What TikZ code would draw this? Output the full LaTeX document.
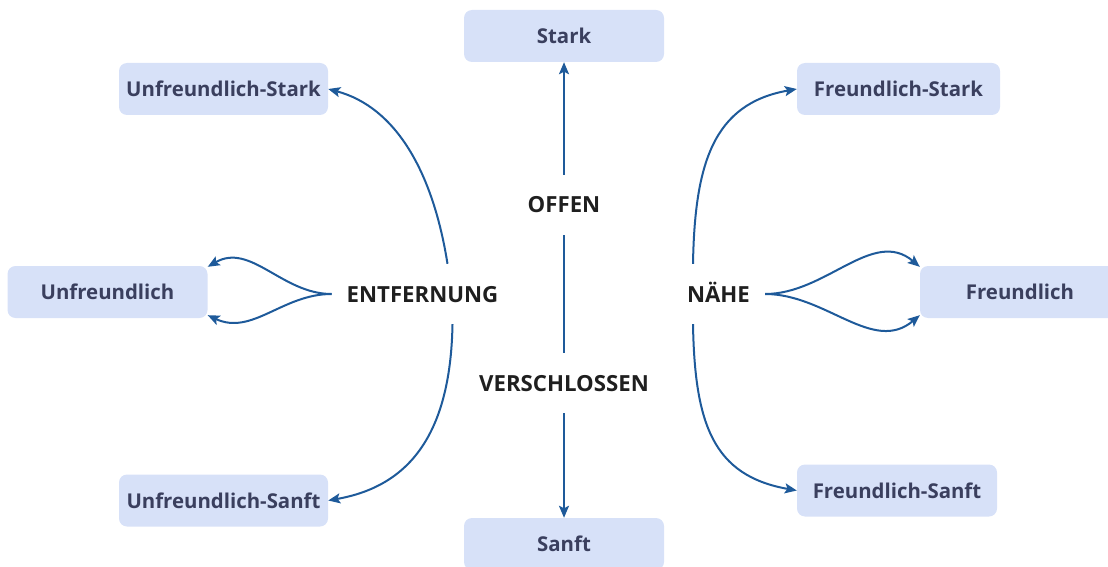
\documentclass[tikz,border=0pt]{standalone}
\usepackage{fontspec}
\setmainfont{Open Sans}
\usetikzlibrary{arrows.meta}
\definecolor{boxfill}{HTML}{D7E1F8}
\definecolor{boxtext}{HTML}{3A3F5E}
\definecolor{arrowblue}{HTML}{1E5A9A}
\begin{document}
\begin{tikzpicture}[x=1pt, y=1pt,
    every node/.style={font=\fontsize{20.4}{24}\selectfont\bfseries},
    box/.style={fill=boxfill, text=boxtext, rounded corners=8pt,
      minimum width=200pt, minimum height=52pt, inner sep=0pt},
    lbl/.style={text=black!88, font=\fontsize{22.2}{26}\selectfont\bfseries,
      inner xsep=15pt, inner ysep=22pt, text height=16pt, text depth=0pt},
    conn/.style={draw=arrowblue, line width=2pt,
      -{Stealth[length=12pt, width=10pt, inset=2.5pt]}}]
  \useasboundingbox (0,0) rectangle (1108,566);
  % kastchen
  \node[box] (stark) at (564,530) {Stark};
  \node[box] (sanft) at (564,22) {Sanft};
  \node[box, minimum width=209pt] (ustark) at (223.5,477) {Unfreundlich-Stark};
  \node[box] (ufr) at (107.5,274) {Unfreundlich};
  \node[box, minimum width=209pt] (usanft) at (223.5,65.5) {Unfreundlich-Sanft};
  \node[box, minimum width=203pt] (fstark) at (898.5,477) {Freundlich-Stark};
  \node[box] (fr) at (1020,274) {Freundlich};
  \node[box] (fsanft) at (897,75.5) {Freundlich-Sanft};
  % mitte
  \node[lbl] (offen) at (564,361) {OFFEN};
  \node[lbl] (verschl) at (564,183) {VERSCHLOSSEN};
  \node[lbl] (entf) at (422.5,272) {ENTFERNUNG};
  \node[lbl] (naehe) at (718.5,272) {NÄHE};
  % senkrecht
  \draw[conn, -] (verschl) -- (offen);
  \draw[conn] (offen) -- (stark);
  \draw[conn] (verschl) -- (sanft);
  % links
  \draw[conn] ([xshift=25pt]entf.north) to[out=99, in=-15,
    out distance=93pt, in distance=70pt] (ustark.east);
  \draw[conn] ([xshift=30pt]entf.south) to[out=-91, in=10,
    out distance=113pt, in distance=80pt] (usanft.east);
  \draw[conn] (entf.west) to[out=180, in=30] ([yshift=-1pt]ufr.north east);
  \draw[conn] (entf.west) to[out=180, in=-25] ([yshift=3pt]ufr.south east);
  % rechts
  \draw[conn] ([xshift=-25.5pt]naehe.north) to[out=89, in=190,
    out distance=100pt, in distance=85pt] (fstark.west);
  \draw[conn] ([xshift=-25.5pt]naehe.south) to[out=-89, in=170,
    out distance=100pt, in distance=85pt] (fsanft.west);
  \draw[conn] (naehe.east) to[out=0, in=140] ([yshift=-1pt]fr.north west);
  \draw[conn] (naehe.east) to[out=0, in=-140] ([yshift=3pt]fr.south west);
\end{tikzpicture}
\end{document}
